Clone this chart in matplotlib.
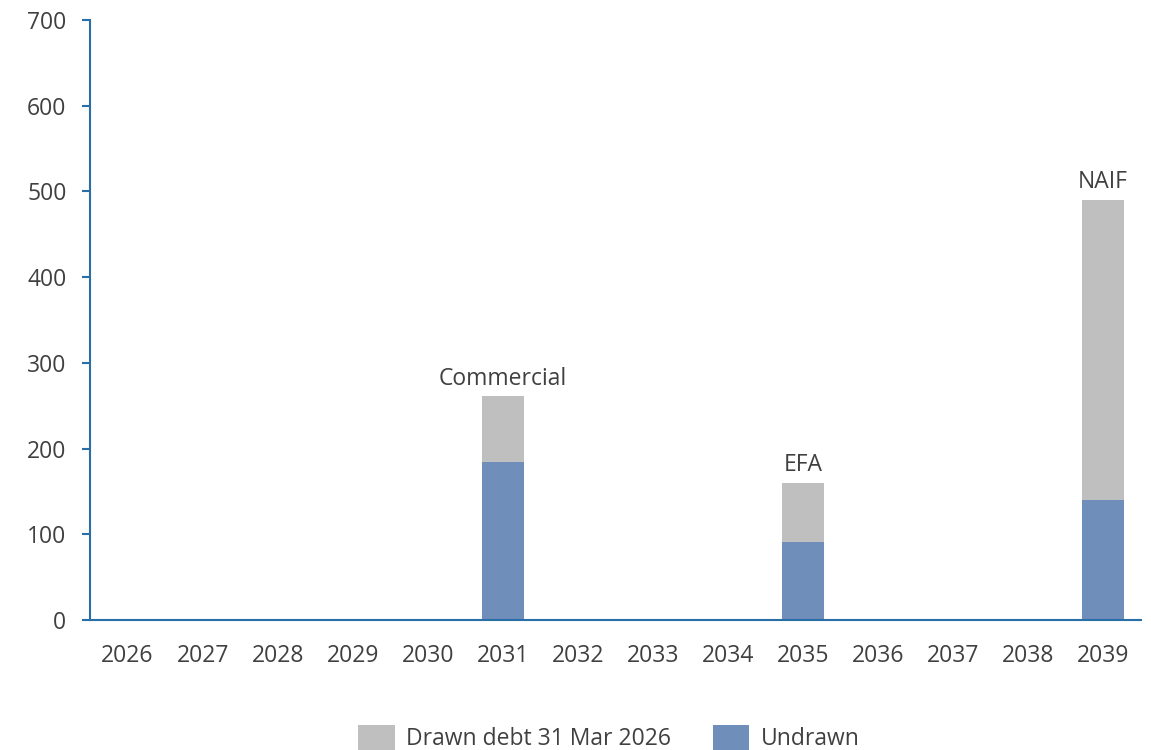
import numpy as np
import matplotlib.pyplot as plt

plt.rcParams['font.family'] = ['Open Sans', 'DejaVu Sans']

# data
years = [str(y) for y in range(2026, 2040)]
undrawn = [0, 0, 0, 0, 0, 184, 0, 0, 0, 91, 0, 0, 0, 140]
drawn = [0, 0, 0, 0, 0, 77, 0, 0, 0, 69, 0, 0, 0, 350]
labels = {'2031': 'Commercial', '2035': 'EFA', '2039': 'NAIF'}

grey = '#BFBFBF'
blue = '#6F8EBA'
axis_col = '#2A6EA6'
txt = '#404040'

fig = plt.figure(figsize=(11.51, 7.5), dpi=100)
ax = fig.add_axes([0.0782, 0.1733, 0.9128, 0.8])

x = np.arange(len(years))
undrawn = np.array(undrawn)
drawn = np.array(drawn)
b1 = ax.bar(x, undrawn, width=0.56, color=blue, label='Undrawn')
b2 = ax.bar(x, drawn, width=0.56, bottom=undrawn, color=grey, label='Drawn debt 31 Mar 2026')

for i, y in enumerate(years):
    if y in labels:
        ax.annotate(labels[y], (x[i], undrawn[i] + drawn[i]), xytext=(0, 4),
                    textcoords='offset points', ha='center', va='bottom',
                    fontsize=16.5, color=txt)

ax.set_xlim(-0.5, len(years) - 0.5)
ax.set_ylim(0, 700)
ax.set_yticks(range(0, 701, 100))
ax.set_xticks(x)
ax.set_xticklabels(years)

for s in ['top', 'right']:
    ax.spines[s].set_visible(False)
ax.spines['left'].set_color(axis_col)
ax.spines['bottom'].set_color(axis_col)
ax.spines['left'].set_linewidth(1.5)
ax.spines['bottom'].set_linewidth(1.5)
ax.tick_params(axis='y', colors=axis_col, labelcolor=txt, labelsize=16.5, length=6, width=1.5, pad=11)
ax.tick_params(axis='x', length=0, labelcolor=txt, labelsize=16.5, pad=17)

ax.legend(handles=[b2, b1], loc='upper center', bbox_to_anchor=(0.494, -0.14), ncol=2,
          frameon=False, fontsize=16.5, labelcolor=txt, handlelength=1.6, handleheight=1.3,
          columnspacing=1.8, handletextpad=0.5)

plt.savefig('out.png', dpi=100)
